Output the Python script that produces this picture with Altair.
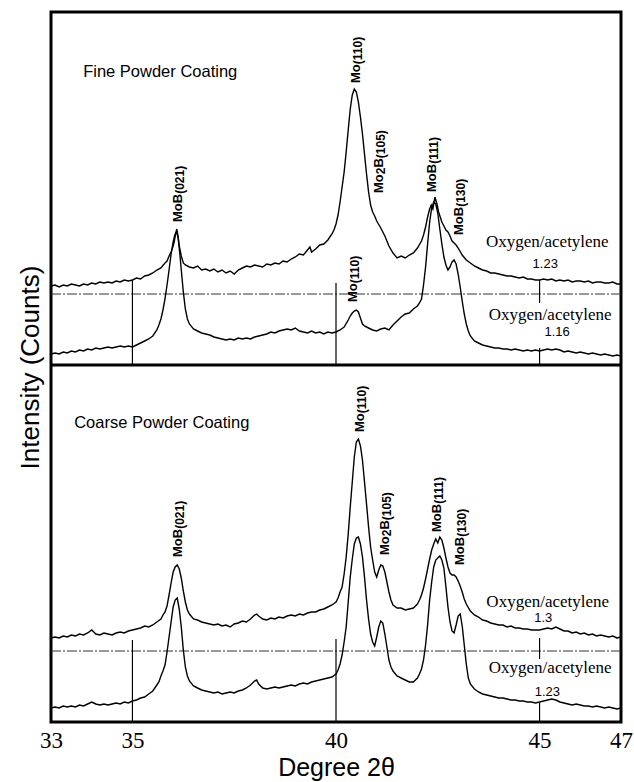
import altair as alt
import pandas as pd

# ---------------- data (2θ in degrees, intensity in arbitrary stacked counts) ----------------
fine_123 = [(33.0,436),(33.1,437),(33.2,435),(33.3,437),(33.4,436),(33.5,438),(33.6,437),(33.7,436),(33.8,438),(33.9,437),
            (34.0,439),(34.1,438),(34.2,440),(34.3,439),(34.4,440),(34.5,439),(34.6,441),(34.7,440),(34.8,442),(34.9,441),
            (35.0,442),(35.1,444),(35.2,443),(35.3,446),(35.4,447),(35.5,449),(35.6,452),(35.7,454),(35.8,459),(35.85,461),
            (35.9,466),(35.95,470),(36.0,476),(36.03,481),(36.06,488),(36.09,493),(36.12,486),(36.15,476),(36.2,466),(36.25,459),
            (36.3,457),(36.4,455),(36.5,454),(36.6,456),(36.7,452),(36.8,453),(36.9,451),(37.0,453),(37.1,450),(37.2,452),
            (37.3,449),(37.4,451),(37.5,448),(37.6,452),(37.7,454),(37.8,456),(37.9,455),(38.0,457),(38.1,456),(38.2,455),
            (38.3,458),(38.4,457),(38.5,459),(38.6,458),(38.7,461),(38.8,460),(38.9,463),(39.0,465),(39.1,468),(39.2,467),
            (39.3,472),(39.36,475),(39.4,470),(39.5,473),(39.6,477),(39.7,478),(39.8,482),(39.9,488),(39.95,492),(40.0,498),
            (40.05,507),(40.1,520),(40.15,535),(40.2,550),(40.25,570),(40.3,592),(40.35,613),(40.4,627),(40.45,633),(40.5,630),
            (40.55,620),(40.6,605),(40.65,588),(40.7,568),(40.75,548),(40.8,530),(40.85,517),(40.9,510),(40.95,506),(41.0,501),
            (41.1,494),(41.2,486),(41.3,476),(41.4,469),(41.5,464),(41.6,466),(41.7,464),(41.8,467),(41.9,469),(42.0,474),
            (42.1,481),(42.15,487),(42.2,495),(42.25,505),(42.3,513),(42.34,517),(42.38,513),(42.43,525),(42.48,518),(42.52,510),
            (42.56,505),(42.6,500),(42.65,496),(42.7,492),(42.75,490),(42.8,486),(42.85,481),(42.9,479),(42.95,477),(43.0,474),
            (43.1,467),(43.2,462),(43.3,459),(43.4,456),(43.5,454),(43.6,452),(43.7,451),(43.8,449),(43.9,449),(44.0,448),
            (44.1,447),(44.2,446),(44.3,446),(44.4,445),(44.5,444),(44.6,445),(44.7,443),(44.8,443),(44.9,442),(45.0,442),
            (45.1,443),(45.2,442),(45.3,443),(45.4,441),(45.5,442),(45.6,441),(45.7,442),(45.8,440),(45.9,441),(46.0,441),
            (46.1,440),(46.2,441),(46.3,439),(46.4,440),(46.5,440),(46.6,439),(46.7,439),(46.8,440),(46.9,438),(47.0,438)]

fine_116 = [(33.0,368),(33.1,369),(33.2,368),(33.3,370),(33.4,369),(33.5,371),(33.6,370),(33.7,372),(33.8,371),(33.9,373),
            (34.0,372),(34.1,374),(34.2,373),(34.3,374),(34.4,375),(34.5,374),(34.6,375),(34.7,376),(34.8,375),(34.9,376),
            (35.0,375),(35.1,377),(35.2,379),(35.3,381),(35.4,383),(35.5,386),(35.6,392),(35.65,397),(35.7,403),(35.75,412),
            (35.8,423),(35.85,437),(35.9,452),(35.95,468),(36.0,480),(36.04,487),(36.08,490),(36.12,485),(36.16,470),(36.2,452),
            (36.25,430),(36.3,413),(36.35,403),(36.4,398),(36.5,393),(36.6,391),(36.7,389),(36.8,388),(36.9,387),(37.0,385),
            (37.1,384),(37.2,383),(37.3,382),(37.4,383),(37.5,382),(37.6,384),(37.7,383),(37.8,384),(37.9,383),(38.0,385),
            (38.1,386),(38.2,387),(38.3,388),(38.4,390),(38.5,389),(38.6,391),(38.7,392),(38.8,393),(38.9,392),(39.0,394),
            (39.1,391),(39.2,390),(39.3,389),(39.4,391),(39.5,389),(39.6,390),(39.7,388),(39.8,390),(39.9,389),(40.0,390),
            (40.1,392),(40.2,395),(40.3,402),(40.35,406),(40.4,409),(40.45,411),(40.5,412),(40.55,410),(40.6,404),(40.65,398),
            (40.7,396),(40.8,394),(40.9,392),(41.0,391),(41.1,393),(41.2,394),(41.3,392),(41.4,397),(41.5,401),(41.6,405),
            (41.7,408),(41.8,409),(41.9,413),(42.0,416),(42.05,419),(42.1,423),(42.15,437),(42.2,455),(42.25,478),(42.3,500),
            (42.35,514),(42.4,520),(42.45,518),(42.5,509),(42.55,493),(42.6,478),(42.65,465),(42.7,457),(42.75,452),(42.8,455),
            (42.85,460),(42.9,462),(42.95,458),(43.0,448),(43.05,435),(43.1,421),(43.15,408),(43.2,398),(43.25,391),(43.3,386),
            (43.4,381),(43.5,379),(43.6,377),(43.7,376),(43.8,375),(43.9,374),(44.0,374),(44.1,373),(44.2,373),(44.3,372),
            (44.4,373),(44.5,372),(44.6,371),(44.7,372),(44.8,371),(44.9,372),(45.0,371),(45.1,372),(45.2,373),(45.3,372),
            (45.4,373),(45.5,372),(45.6,370),(45.7,371),(45.8,370),(45.9,369),(46.0,370),(46.1,369),(46.2,368),(46.3,369),
            (46.4,368),(46.5,367),(46.6,368),(46.7,367),(46.8,366),(46.9,367),(47.0,366)]

coarse_13 = [(33.0,84),(33.1,85),(33.2,84),(33.3,86),(33.4,85),(33.5,87),(33.6,86),(33.7,88),(33.8,87),(33.9,89),
             (34.0,92),(34.05,90),(34.1,88),(34.2,87),(34.3,89),(34.4,88),(34.5,87),(34.6,89),(34.7,90),(34.8,89),
             (34.9,91),(35.0,92),(35.1,93),(35.2,94),(35.3,96),(35.4,95),(35.5,97),(35.6,100),(35.7,103),(35.75,107),
             (35.8,110),(35.85,116),(35.9,127),(35.95,139),(36.0,150),(36.05,155),(36.1,157),(36.15,153),(36.2,144),(36.25,131),
             (36.3,120),(36.35,112),(36.4,108),(36.5,103),(36.6,102),(36.7,100),(36.8,99),(36.9,98),(37.0,97),(37.1,98),
             (37.2,96),(37.3,97),(37.4,95),(37.5,98),(37.6,99),(37.7,101),(37.8,100),(37.9,103),(38.0,107),(38.05,108),
             (38.1,106),(38.2,103),(38.3,102),(38.4,104),(38.5,103),(38.6,105),(38.7,104),(38.8,106),(38.9,107),(39.0,106),
             (39.1,108),(39.2,107),(39.3,109),(39.4,110),(39.5,110),(39.6,112),(39.7,113),(39.8,115),(39.9,117),(40.0,120),
             (40.05,124),(40.1,130),(40.15,135),(40.2,148),(40.25,165),(40.3,188),(40.35,215),(40.4,240),(40.45,265),(40.5,280),
             (40.55,283),(40.6,276),(40.65,262),(40.7,240),(40.75,218),(40.8,195),(40.85,175),(40.9,162),(40.95,150),(41.0,145),
             (41.05,152),(41.1,157),(41.15,156),(41.2,150),(41.25,140),(41.3,130),(41.35,122),(41.4,117),(41.5,114),(41.6,114),
             (41.7,112),(41.8,113),(41.9,114),(42.0,118),(42.05,122),(42.1,127),(42.15,134),(42.2,143),(42.25,153),(42.3,163),
             (42.35,172),(42.4,178),(42.45,183),(42.5,179),(42.55,185),(42.6,182),(42.65,174),(42.7,164),(42.75,155),(42.8,149),
             (42.85,147),(42.9,147),(42.95,145),(43.0,141),(43.05,136),(43.1,130),(43.15,123),(43.2,118),(43.3,111),(43.4,107),
             (43.5,105),(43.6,102),(43.7,101),(43.8,99),(43.9,98),(44.0,97),(44.1,97),(44.2,95),(44.3,96),(44.4,94),
             (44.5,94),(44.6,93),(44.7,93),(44.8,92),(44.9,92),(45.0,92),(45.1,93),(45.2,94),(45.3,93),(45.4,95),
             (45.5,93),(45.6,91),(45.7,91),(45.8,89),(45.9,90),(46.0,88),(46.1,89),(46.2,87),(46.3,88),(46.4,86),
             (46.5,87),(46.6,86),(46.7,85),(46.8,86),(46.9,84),(47.0,85)]

coarse_123 = [(33.0,14),(33.1,15),(33.2,14),(33.3,16),(33.4,15),(33.5,16),(33.6,15),(33.7,17),(33.8,16),(33.9,18),
              (34.0,20),(34.05,19),(34.1,18),(34.2,17),(34.3,18),(34.4,17),(34.5,18),(34.6,19),(34.7,18),(34.8,20),
              (34.9,19),(35.0,21),(35.1,22),(35.2,24),(35.3,25),(35.4,28),(35.5,31),(35.55,34),(35.6,37),(35.65,40),
              (35.7,46),(35.75,51),(35.8,57),(35.85,70),(35.9,85),(35.95,100),(36.0,115),(36.05,122),(36.1,124),(36.15,113),
              (36.2,95),(36.25,72),(36.3,55),(36.35,46),(36.4,41),(36.5,36),(36.6,34),(36.7,32),(36.8,31),(36.9,30),
              (37.0,29),(37.1,30),(37.2,28),(37.3,29),(37.4,30),(37.5,29),(37.6,31),(37.7,32),(37.8,34),(37.9,37),
              (38.0,41),(38.05,42),(38.1,38),(38.2,34),(38.3,33),(38.4,34),(38.5,35),(38.6,34),(38.7,35),(38.8,36),
              (38.9,37),(39.0,36),(39.1,38),(39.2,39),(39.3,38),(39.4,40),(39.5,41),(39.6,42),(39.7,43),(39.8,44),
              (39.9,45),(40.0,48),(40.05,52),(40.1,58),(40.15,67),(40.2,80),(40.25,95),(40.3,120),(40.35,145),(40.4,163),
              (40.45,178),(40.5,184),(40.55,185),(40.6,178),(40.65,165),(40.7,145),(40.75,122),(40.8,103),(40.85,88),(40.9,80),
              (40.95,76),(41.0,85),(41.05,95),(41.1,101),(41.15,99),(41.2,88),(41.25,75),(41.3,62),(41.35,55),(41.4,51),
              (41.5,46),(41.6,44),(41.7,42),(41.8,40),(41.9,40),(42.0,44),(42.05,48),(42.1,53),(42.15,62),(42.2,77),
              (42.25,97),(42.3,122),(42.35,140),(42.4,155),(42.45,162),(42.5,164),(42.55,166),(42.6,162),(42.65,154),(42.7,135),
              (42.75,115),(42.8,100),(42.85,91),(42.9,89),(42.95,97),(43.0,106),(43.05,108),(43.1,96),(43.15,77),(43.2,58),
              (43.25,44),(43.3,38),(43.4,33),(43.5,30),(43.6,28),(43.7,27),(43.8,26),(43.9,25),(44.0,24),(44.1,24),
              (44.2,23),(44.3,22),(44.4,22),(44.5,21),(44.6,21),(44.7,20),(44.8,20),(44.9,19),(45.0,20),(45.1,21),
              (45.2,22),(45.3,23),(45.4,22),(45.5,20),(45.6,19),(45.7,18),(45.8,17),(45.9,18),(46.0,17),(46.1,16),
              (46.2,16),(46.3,15),(46.4,16),(46.5,15),(46.6,14),(46.7,15),(46.8,14),(46.9,13),(47.0,14)]

x_ticks = [33, 35, 40, 45, 47]
y_domain = [0, 710]
baseline_levels = [428, 71]          # dash-dot reference baselines
divider_level = [357]                # panel separator
# vertical reference marks: (2θ, from, to)
ref_marks = [(35, 357, 442), (40, 357, 439), (45, 419, 442), (45, 357, 374),
             (35, 0, 82), (40, 0, 83), (45, 63, 84), (45, 0, 19)]

# peak labels: (2θ, base level, parts)
peak_labels = [
    (36.12, 500, [("MoB", "m"), ("(021)", "s")]),
    (40.49, 639, [("Mo", "m"), ("(110)", "s")]),
    (41.06, 529, [("Mo", "m"), ("2", "s"), ("B", "m"), ("(105)", "s")]),
    (42.36, 530, [("MoB", "m"), ("(111)", "s")]),
    (43.02, 487, [("MoB", "m"), ("(130)", "s")]),
    (40.42, 420, [("Mo", "m"), ("(110)", "s")]),
    (36.12, 165, [("MoB", "m"), ("(021)", "s")]),
    (40.58, 290, [("Mo", "m"), ("(110)", "s")]),
    (41.20, 167, [("Mo", "m"), ("2", "s"), ("B", "m"), ("(105)", "s")]),
    (42.48, 190, [("MoB", "m"), ("(111)", "s")]),
    (43.05, 157, [("MoB", "m"), ("(130)", "s")]),
]

gas_labels = [(45.19, 480, "Oxygen/acetylene"), (45.26, 407, "Oxygen/acetylene"),
              (45.20, 120, "Oxygen/acetylene"), (45.26, 54, "Oxygen/acetylene")]
ratio_labels = [(45.14, 458, "1.23"), (45.43, 390, "1.16"),
                (45.09, 104, "1.3"), (45.19, 30, "1.23")]
panel_titles = [(33.79, 650, "Fine Powder Coating"), (33.57, 299, "Coarse Powder Coating")]

# ---------------- build tables ----------------
rows = []
for name, tr in [("fine_123", fine_123), ("fine_116", fine_116),
                 ("coarse_13", coarse_13), ("coarse_123", coarse_123)]:
    for x, y in tr:
        rows.append({"x": x, "y": y, "trace": name})
traces = pd.DataFrame(rows)

xscale = alt.Scale(domain=[33, 47], nice=False, zero=False)
yscale = alt.Scale(domain=y_domain, nice=False, zero=False)
xaxis = alt.Axis(values=x_ticks, format="d", ticks=False, domain=False, grid=False,
                 labelFont="Liberation Serif", labelFontSize=23, labelColor="black",
                 labelPadding=7, labelFlush=False, labelBaseline="top",
                 title="Degree 2θ", titleFont="Liberation Sans", titleFontSize=25,
                 titleFontWeight="normal", titleColor="black", titleBaseline="alphabetic",
                 titleY=53)
yaxis = alt.Axis(labels=False, ticks=False, domain=False, grid=False,
                 title="Intensity (Counts)", titleFont="Liberation Sans", titleFontSize=26,
                 titleFontWeight="normal", titleColor="black", titleAngle=270,
                 titleAlign="center", titleBaseline="middle", titleX=-21, titleY=355)

def X(f="x"):
    return alt.X(f"{f}:Q", scale=xscale, axis=xaxis, title="Degree 2θ")

def Y(f="y"):
    return alt.Y(f"{f}:Q", scale=yscale, axis=yaxis, title="Intensity (Counts)")

lines = alt.Chart(traces).mark_line(color="black", strokeWidth=1.4).encode(
    x=X(), y=Y(), detail="trace:N")

base_df = pd.DataFrame({"y": baseline_levels})
baselines = alt.Chart(base_df).mark_rule(color="#333333", strokeWidth=1,
                                         strokeDash=[10, 2, 2, 2]).encode(y=Y())
div_df = pd.DataFrame({"y": divider_level})
divider = alt.Chart(div_df).mark_rule(color="black", strokeWidth=3).encode(y=Y())

ref_df = pd.DataFrame(ref_marks, columns=["x", "y", "y2"])
refs = alt.Chart(ref_df).mark_rule(color="black", strokeWidth=1.2).encode(
    x=X(), y=Y(), y2="y2:Q")

# peak label segments (main text + lowered smaller parts)
WID = {"M": 0.833, "o": 0.611, "B": 0.722, "(": 0.333, ")": 0.333}
MAIN, SUB = 13, 12
seg_rows = []
for x, y, parts in peak_labels:
    off = 0.0
    for txt, kind in parts:
        size = MAIN if kind == "m" else SUB
        seg_rows.append({"x": x, "y": y, "text": txt, "kind": kind, "off": round(off, 1)})
        off += sum(WID.get(c, 0.556) for c in txt) * size
seg_df = pd.DataFrame(seg_rows)

seg_layers = []
for (kind, off), g in seg_df.groupby(["kind", "off"]):
    size = MAIN if kind == "m" else SUB
    seg_layers.append(
        alt.Chart(g).mark_text(angle=270, align="left", baseline="middle",
                               dx=float(off), dy=0 if kind == "m" else 2,
                               font="Liberation Sans", fontSize=size,
                               fontWeight="bold", color="black").encode(
            x=X(), y=Y(), text="text:N"))

gas_df = pd.DataFrame(gas_labels, columns=["x", "y", "text"])
gas = alt.Chart(gas_df).mark_text(font="Liberation Serif", fontSize=17, color="black",
                                  align="center", baseline="middle").encode(
    x=X(), y=Y(), text="text:N")
ratio_df = pd.DataFrame(ratio_labels, columns=["x", "y", "text"])
ratio = alt.Chart(ratio_df).mark_text(font="Liberation Sans", fontSize=13, color="black",
                                      align="center", baseline="middle").encode(
    x=X(), y=Y(), text="text:N")
title_df = pd.DataFrame(panel_titles, columns=["x", "y", "text"])
ptitles = alt.Chart(title_df).mark_text(font="Liberation Sans", fontSize=16.5, color="black",
                                        align="left", baseline="middle").encode(
    x=X(), y=Y(), text="text:N")

chart = alt.layer(baselines, refs, lines, divider, *seg_layers, gas, ratio, ptitles).properties(
    width=570, height=710,
    autosize=alt.AutoSizeParams(type="none"),
    padding={"left": 51, "top": 12, "right": 13, "bottom": 60},
    background="white",
).configure_view(stroke="black", strokeWidth=3)

chart.save("out.html", embed_options={"renderer": "svg", "actions": False})
